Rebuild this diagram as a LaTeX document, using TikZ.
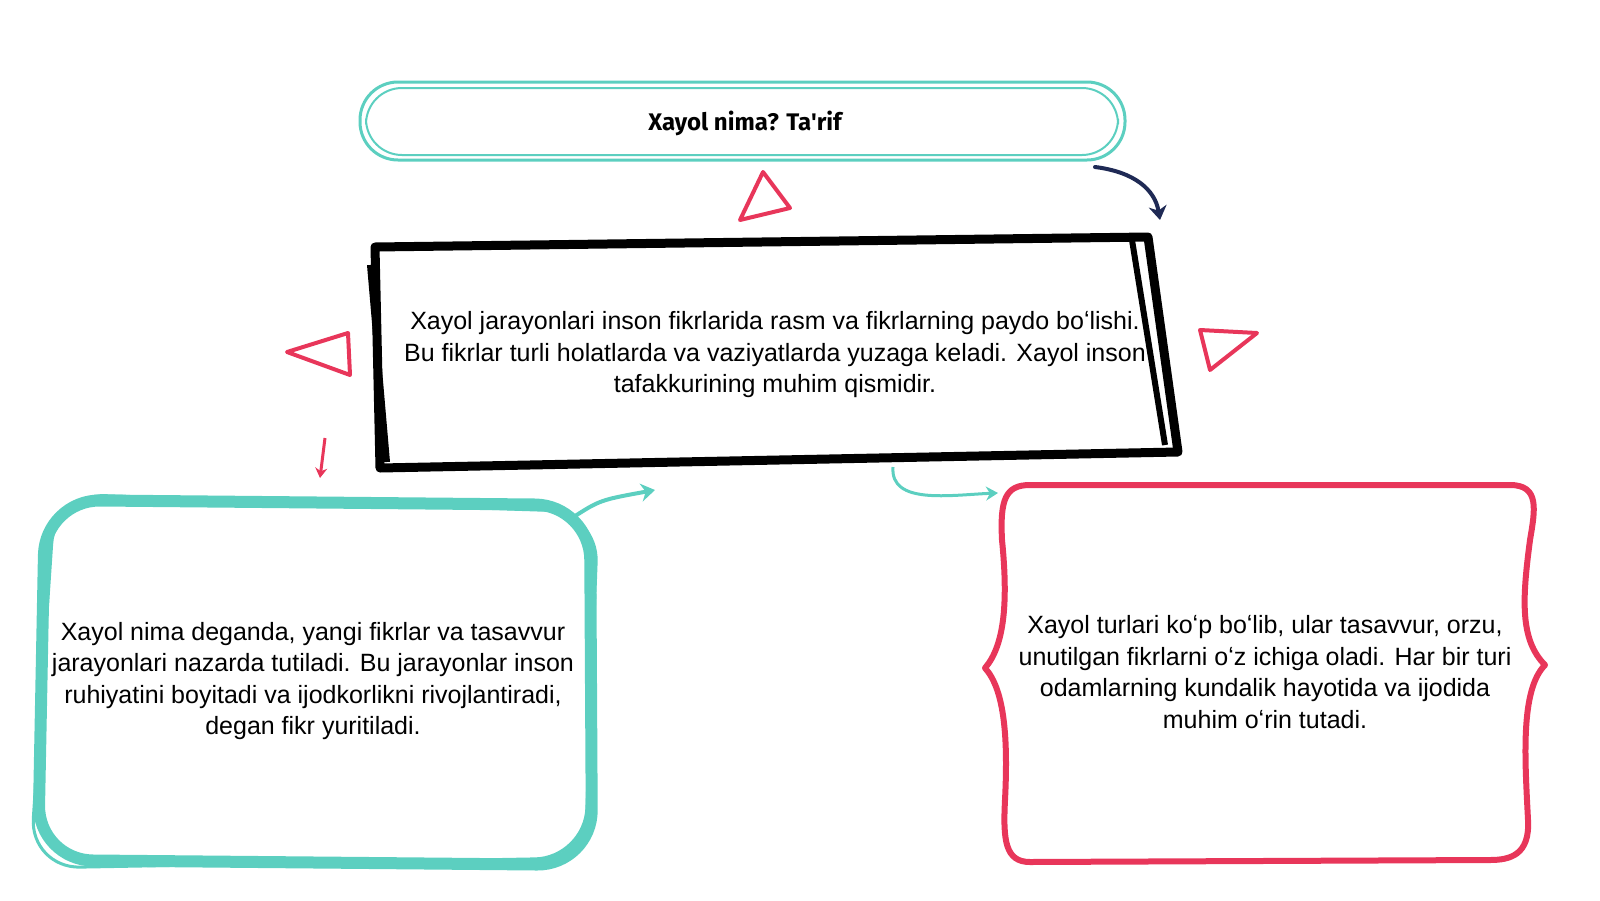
\documentclass[tikz,border=0pt]{standalone}
\usepackage{fontspec}
\setmainfont{Liberation Sans}
\newfontfamily\titlefont{Fira Sans}
\usetikzlibrary{arrows.meta}
\definecolor{teal1}{HTML}{5CCFC0}
\definecolor{red1}{HTML}{E8365A}
\definecolor{navy1}{HTML}{1F2A55}
\tikzset{
 txt/.style={align=center,font=\fontsize{25}{31.5}\selectfont},
 tri/.style={draw=red1,line width=4pt,line join=round},
 arr/.style={line width=4pt,line cap=round,-{Stealth[length=14pt,width=18pt]}}
}
\begin{document}
\begin{tikzpicture}[x=1pt,y=-1pt]
\useasboundingbox (0,0) rectangle (1600,900);
% title
\draw[teal1,line width=3pt,rounded corners=38pt] (360,82) rectangle (1125,160);
\draw[teal1,line width=2pt,rounded corners=36pt] (366,88) rectangle (1118,155);
\node[font=\titlefont\bfseries\fontsize{24}{28}\selectfont] (t) at (745,123) {Xayol nima? Ta'rif};
% middle black
\draw[black,line width=9pt,line join=round] (375,247) -- (1148,237) -- (1178,452) -- (380,468) -- cycle;
\draw[black,line width=6pt] (370,265) -- (387,462);
\draw[black,line width=6pt] (1132,240) -- (1165,445);
\node[txt] (m) at (775,355) {Xayol jarayonlari inson fikrlarida rasm va fikrlarning paydo boʻlishi.\\Bu fikrlar turli holatlarda va vaziyatlarda yuzaga keladi. Xayol inson\\tafakkurining muhim qismidir.};
% left teal
\draw[teal1,line width=12pt,rounded corners=55pt] (45,500) -- (590,505) -- (592,865) -- (38,860) -- cycle;
\draw[teal1,line width=3pt,rounded corners=50pt] (55,494) -- (598,512) -- (585,858) -- (30,868) -- cycle;
\node[txt] (l) at (313,681) {Xayol nima deganda, yangi fikrlar va tasavvur\\jarayonlari nazarda tutiladi. Bu jarayonlar inson\\ruhiyatini boyitadi va ijodkorlikni rivojlantiradi,\\degan fikr yuritiladi.};
% right red
\draw[red1,line width=6pt,line join=round] (1030,485) -- (1510,485) .. controls (1540,485) and (1535,510) .. (1530,540) .. controls (1522,600) and (1520,640) .. (1545,665) .. controls (1520,690) and (1525,760) .. (1528,820) .. controls (1530,855) and (1510,860) .. (1490,860) -- (1030,862) .. controls (1005,862) and (1003,840) .. (1005,800) .. controls (1008,740) and (1005,690) .. (985,668) .. controls (1005,645) and (1008,600) .. (1002,540) .. controls (1000,500) and (1005,485) .. (1030,485) -- cycle;
\node[txt] (r) at (1265,672) {Xayol turlari koʻp boʻlib, ular tasavvur, orzu,\\unutilgan fikrlarni oʻz ichiga oladi. Har bir turi\\odamlarning kundalik hayotida va ijodida\\muhim oʻrin tutadi.};
% triangles
\draw[tri] (740,220) -- (763,172) -- (790,208) -- cycle;
\draw[tri] (287,352) -- (348,333) -- (350,375) -- cycle;
\draw[tri] (1200,330) -- (1257,333) -- (1210,370) -- cycle;
% arrows
\coordinate (a1) at (325,438); \coordinate (a2) at (320,478);
\draw[red1,line width=3pt,-{Stealth[length=10pt,width=12pt]}] (a1) -- (a2);
\coordinate (b1) at (572,518); \coordinate (b2) at (655,490);
\draw[teal1,arr] (b1) .. controls (600,500) .. (b2);
\coordinate (c1) at (893,467); \coordinate (c2) at (998,493);
\draw[teal1,line width=3pt,-{Stealth[length=12pt,width=14pt]}] (c1) .. controls (890,505) and (950,495) .. (c2);
\coordinate (d1) at (1095,167); \coordinate (d2) at (1160,220);
\draw[navy1,arr] (d1) .. controls (1135,172) and (1155,190) .. (d2);
\end{tikzpicture}
\end{document}
